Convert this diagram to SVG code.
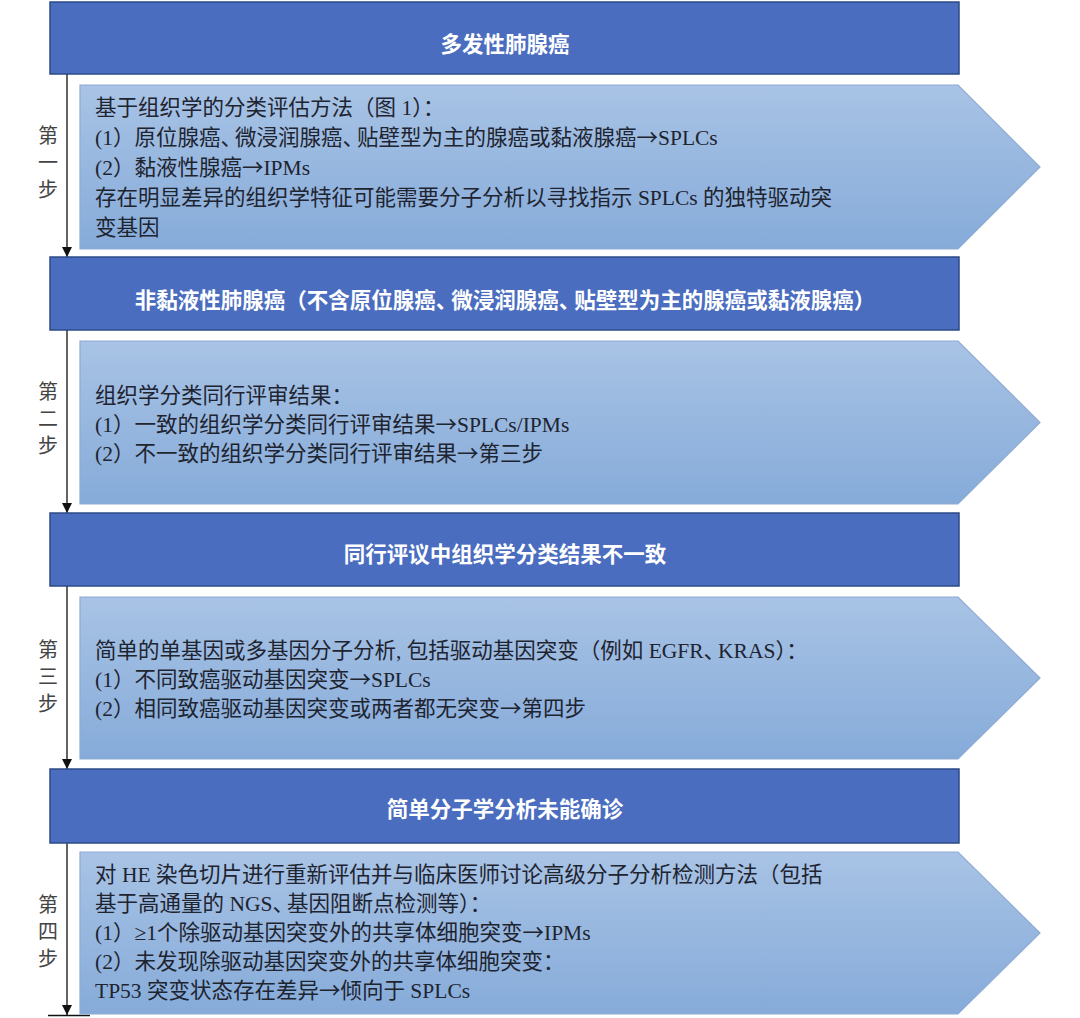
<svg xmlns="http://www.w3.org/2000/svg" width="1080" height="1018" viewBox="0 0 1080 1018">
<defs>
<linearGradient id="pg" x1="0" y1="0" x2="0" y2="1">
<stop offset="0" stop-color="#a8c3e5"/>
<stop offset="1" stop-color="#86abd9"/>
</linearGradient>
<marker id="ah" markerWidth="10" markerHeight="12" refX="10" refY="6" orient="auto" markerUnits="userSpaceOnUse">
<path d="M0,1 L10,6 L0,11 Z" fill="#111"/>
</marker>
<style>
.hd{fill:#4a6dbf;stroke:#2d4a86;stroke-width:1.5}
.pn{fill:url(#pg);stroke:#8eabd3;stroke-width:1.2}
.ht{font-family:"Liberation Serif","Noto Sans CJK SC",serif;font-size:21.5px;font-weight:bold;fill:#fff;text-anchor:middle}
.bt{font-family:"Liberation Serif","Noto Sans CJK SC",serif;font-size:21.5px;fill:#1e2430}
.st{font-family:"Liberation Serif","Noto Sans CJK SC",serif;font-size:20px;fill:#444;text-anchor:middle}
.ar{font-family:"Noto Sans CJK SC",sans-serif}
.cn{stroke:#111;stroke-width:1.3;fill:none}
</style>
</defs>
<rect width="1080" height="1018" fill="#fff"/>

<g id="connectors">
<line class="cn" x1="67" y1="74" x2="67" y2="257" marker-end="url(#ah)"/>
<line class="cn" x1="67" y1="330" x2="67" y2="513" marker-end="url(#ah)"/>
<line class="cn" x1="67" y1="586" x2="67" y2="769" marker-end="url(#ah)"/>
<line class="cn" x1="67" y1="843" x2="67" y2="1015" marker-end="url(#ah)"/>
<line class="cn" x1="48" y1="1015.5" x2="90" y2="1015.5"/>
</g>

<g id="header1">
<rect class="hd" x="50" y="2" width="909" height="72"/>
<text class="ht" x="505" y="52">多发性肺腺癌</text>
</g>
<g id="step1">
<path class="pn" d="M80,85 H958 L1040,167 L958,249 H80 Z"/>
<text class="st" x="48" y="143">第</text>
<text class="st" x="48" y="170">一</text>
<text class="st" x="48" y="197">步</text>
<text class="bt" x="95" y="115">基于组织学的分类评估方法（图 1）：</text>
<text class="bt" x="95" y="145">(1）原位腺癌、<tspan dx="-7">微浸润腺癌、</tspan><tspan dx="-7">贴壁型为主的腺癌或黏液腺癌</tspan><tspan class="ar">→</tspan>SPLCs</text>
<text class="bt" x="95" y="175">(2）黏液性腺癌<tspan class="ar">→</tspan>IPMs</text>
<text class="bt" x="95" y="205">存在明显差异的组织学特征可能需要分子分析以寻找指示 SPLCs 的独特驱动突</text>
<text class="bt" x="95" y="235">变基因</text>
</g>

<g id="header2">
<rect class="hd" x="50" y="257" width="909" height="73"/>
<text class="ht" x="505" y="308">非黏液性肺腺癌（不含原位腺癌、<tspan dx="-6">微浸润腺癌、</tspan><tspan dx="-6">贴壁型为主的腺癌或黏液腺癌）</tspan></text>
</g>
<g id="step2">
<path class="pn" d="M80,341 H958 L1040,422.5 L958,504 H80 Z"/>
<text class="st" x="48" y="399">第</text>
<text class="st" x="48" y="426">二</text>
<text class="st" x="48" y="453">步</text>
<text class="bt" x="95" y="403">组织学分类同行评审结果：</text>
<text class="bt" x="95" y="432">(1）一致的组织学分类同行评审结果<tspan class="ar">→</tspan>SPLCs/IPMs</text>
<text class="bt" x="95" y="461">(2）不一致的组织学分类同行评审结果<tspan class="ar">→</tspan>第三步</text>
</g>

<g id="header3">
<rect class="hd" x="50" y="513" width="909" height="73"/>
<text class="ht" x="505" y="562">同行评议中组织学分类结果不一致</text>
</g>
<g id="step3">
<path class="pn" d="M80,597 H958 L1040,678 L958,759 H80 Z"/>
<text class="st" x="48" y="657">第</text>
<text class="st" x="48" y="684">三</text>
<text class="st" x="48" y="711">步</text>
<text class="bt" x="95" y="658">简单的单基因或多基因分子分析, 包括驱动基因突变（例如 EGFR、<tspan dx="-7">KRAS）：</tspan></text>
<text class="bt" x="95" y="687">(1）不同致癌驱动基因突变<tspan class="ar">→</tspan>SPLCs</text>
<text class="bt" x="95" y="716">(2）相同致癌驱动基因突变或两者都无突变<tspan class="ar">→</tspan>第四步</text>
</g>

<g id="header4">
<rect class="hd" x="50" y="769" width="909" height="74"/>
<text class="ht" x="505" y="817">简单分子学分析未能确诊</text>
</g>
<g id="step4">
<path class="pn" d="M80,852 H958 L1040,933 L958,1014 H80 Z"/>
<text class="st" x="48" y="912">第</text>
<text class="st" x="48" y="939">四</text>
<text class="st" x="48" y="966">步</text>
<text class="bt" x="95" y="882">对 HE 染色切片进行重新评估并与临床医师讨论高级分子分析检测方法（包括</text>
<text class="bt" x="95" y="911">基于高通量的 NGS、<tspan dx="-7">基因阻断点检测等）：</tspan></text>
<text class="bt" x="95" y="940">(1）≥1个除驱动基因突变外的共享体细胞突变<tspan class="ar">→</tspan>IPMs</text>
<text class="bt" x="95" y="969">(2）未发现除驱动基因突变外的共享体细胞突变：</text>
<text class="bt" x="95" y="998">TP53 突变状态存在差异<tspan class="ar">→</tspan>倾向于 SPLCs</text>
</g>
</svg>
